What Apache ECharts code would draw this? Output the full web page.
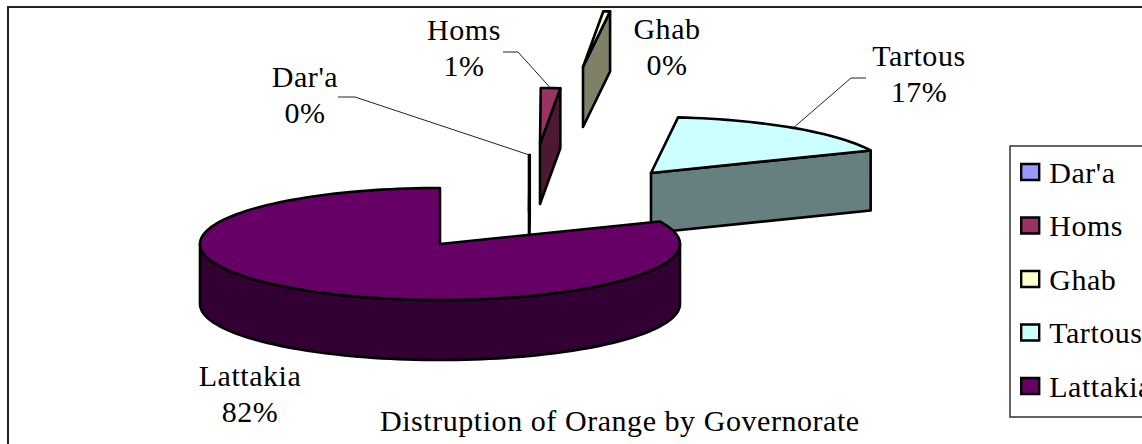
<!DOCTYPE html>
<html>
<head>
<meta charset="utf-8">
<style>html,body{margin:0;padding:0;background:#fff}#c{width:1142px;height:444px;letter-spacing:0.55px}</style>
<script src="https://cdn.jsdelivr.net/npm/echarts@6/dist/echarts.min.js"></script>
</head>
<body>
<div id="c"></div>
<script>
// ---- data ----
const categories = ["Dar'a", "Homs", "Ghab", "Tartous", "Lattakia"];
const values = [0.05, 1.3, 0.45, 16.6, 81.6];
const chartTitle = "Distruption of Orange by Governorate";

// ---- styles / layout ----
const topColors = ["#9999FF", "#993366", "#FFFFCC", "#CCFFFF", "#660066"];
const wallColors = ["#4C4C80", "#4C1933", "#808066", "#668080", "#330033"];
const FONT = '30px "Liberation Serif", "Times New Roman", serif';
const PIE = { cx: 541, cy: 208, rx: 240, ry: 56, depth: 60 };
// each slice is pulled away from the pie centre by its own offset
const explode = [[-12, 3], [-1, -64], [42, -141], [110, -35], [-101, 36]];
const labelPos = [[305, 94], [464, 47], [667, 46], [919, 73], [250, 393]];
const leaderElbow = [[[338, 97], [355, 97]], [[503, 52], [518, 52]], null, [[866, 78], [851, 78]], null];

const total = values.reduce((a, b) => a + b, 0);
const starts = [];
values.reduce((acc, v, i) => { starts[i] = acc; return acc + v; }, 0);

function renderSlice(i) {
  const s = starts[i] / total * 360, e = (starts[i] + values[i]) / total * 360;
  const ax = PIE.cx + explode[i][0], ay = PIE.cy + explode[i][1];
  const pt = (deg, down) => {
    const r = deg * Math.PI / 180;
    return [ax + PIE.rx * Math.sin(r), ay - PIE.ry * Math.cos(r) + (down ? PIE.depth : 0)];
  };
  const arc = (a, b, down) => {
    const n = Math.max(1, Math.ceil((b - a) / 2)), p = [];
    for (let k = 0; k <= n; k++) p.push(pt(a + (b - a) * k / n, down));
    return p;
  };
  const edge = { stroke: '#000', lineWidth: 2.6, lineJoin: 'round' };
  const children = [];
  // outer wall (only the front half of the rim can be seen)
  const ws = Math.max(s, 90), we = Math.min(e, 270);
  if (we > ws) {
    children.push({ type: 'polygon', shape: { points: arc(ws, we, false).concat(arc(ws, we, true).reverse()) },
      style: Object.assign({ fill: wallColors[i] }, edge) });
  }
  // cut face at the end angle
  if (e <= 180) {
    children.push({ type: 'polygon', shape: { points: [[ax, ay], pt(e, false), pt(e, true), [ax, ay + PIE.depth]] },
      style: Object.assign({ fill: wallColors[i] }, edge) });
  }
  // top face
  children.push({ type: 'polygon', shape: { points: [[ax, ay]].concat(arc(s, e, false)) },
    style: Object.assign({ fill: topColors[i] }, edge) });
  // leader line
  if (leaderElbow[i]) {
    children.push({ type: 'polyline', shape: { points: leaderElbow[i].concat([pt((s + e) / 2, false)]) },
      style: { stroke: '#222', lineWidth: 1, fill: null } });
  }
  // label
  children.push({ type: 'text', style: {
    text: categories[i] + '\n' + Math.round(values[i] / total * 100) + '%',
    x: labelPos[i][0], y: labelPos[i][1], fill: '#000', font: FONT, lineHeight: 36,
    textAlign: 'center', textVerticalAlign: 'middle' } });
  return { type: 'group', children };
}

const chart = echarts.init(document.getElementById('c'), null, { renderer: 'svg' });
chart.setOption({
  animation: false,
  backgroundColor: '#fff',
  graphic: [{ type: 'rect', z: -10, silent: true,
    shape: { x: 8, y: 7, width: 1400, height: 800 },
    style: { fill: '#fff', stroke: '#222', lineWidth: 2 } }],
  title: { text: chartTitle, left: 380, top: 405, padding: 0,
    textStyle: { fontFamily: '"Liberation Serif"', fontSize: 30, fontWeight: 'normal', color: '#000' } },
  legend: {
    orient: 'vertical', left: 1010, top: 146, padding: [11, 60, 16, 10],
    backgroundColor: '#fff', borderColor: '#333', borderWidth: 1.5,
    itemWidth: 18, itemHeight: 16, itemGap: 23.5, icon: 'rect',
    itemStyle: { borderColor: '#000', borderWidth: 2.4 },
    textStyle: { fontFamily: '"Liberation Serif"', fontSize: 30, color: '#000', padding: [0, 0, 0, 5] },
    data: categories
  },
  series: categories.map((name, i) => ({
    type: 'custom', name, coordinateSystem: 'none', silent: true,
    itemStyle: { color: topColors[i] },
    data: [values[i]],
    renderItem: () => renderSlice(i)
  }))
});
</script>
</body>
</html>
